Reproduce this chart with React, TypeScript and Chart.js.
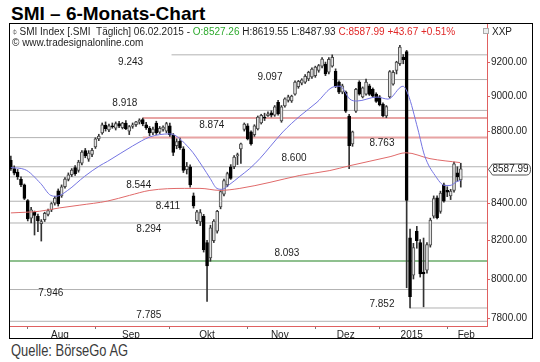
import React, { useEffect, useRef } from 'react';
import { Chart, registerables } from 'chart.js';
Chart.register(...registerables);

// Trading days (dd.mm.)
const dates = [
  '25.07.', '28.07.', '29.07.', '30.07.', '31.07.',
  '04.08.', '05.08.', '06.08.', '07.08.', '08.08.', '11.08.', '12.08.', '13.08.', '14.08.', '15.08.',
  '18.08.', '19.08.', '20.08.', '21.08.', '22.08.', '25.08.', '26.08.', '27.08.', '28.08.', '29.08.',
  '01.09.', '02.09.', '03.09.', '04.09.', '05.09.', '08.09.', '09.09.', '10.09.', '11.09.', '12.09.',
  '15.09.', '16.09.', '17.09.', '18.09.', '19.09.', '22.09.', '23.09.', '24.09.', '25.09.', '26.09.', '29.09.', '30.09.',
  '01.10.', '02.10.', '03.10.', '06.10.', '07.10.', '08.10.', '09.10.', '10.10.', '13.10.', '14.10.', '15.10.', '16.10.',
  '17.10.', '20.10.', '21.10.', '22.10.', '23.10.', '24.10.', '27.10.', '28.10.', '29.10.', '30.10.', '31.10.',
  '03.11.', '04.11.', '05.11.', '06.11.', '07.11.', '10.11.', '11.11.', '12.11.', '13.11.', '14.11.',
  '17.11.', '18.11.', '19.11.', '20.11.', '21.11.', '24.11.', '25.11.', '26.11.', '27.11.', '28.11.',
  '01.12.', '02.12.', '03.12.', '04.12.', '05.12.', '08.12.', '09.12.', '10.12.', '11.12.', '12.12.',
  '15.12.', '16.12.', '17.12.', '18.12.', '19.12.', '22.12.', '23.12.', '29.12.', '30.12.',
  '05.01.', '06.01.', '07.01.', '08.01.', '09.01.', '12.01.', '13.01.', '14.01.', '15.01.', '16.01.',
  '19.01.', '20.01.', '21.01.', '22.01.', '23.01.', '26.01.', '27.01.', '28.01.', '29.01.', '30.01.',
  '02.02.', '03.02.', '04.02.', '05.02.', '06.02.'
];

const opens = [
  8635, 8590, 8570, 8530, 8500, 8415, 8320, 8352, 8330, 8290, 8312, 8340, 8364, 8400, 8468, 8440, 8490, 8530, 8556, 8595,
  8580, 8620, 8690, 8642, 8668, 8710, 8756, 8790, 8832, 8806, 8830, 8816, 8842, 8820, 8846, 8800, 8826, 8836, 8850, 8866,
  8836, 8816, 8790, 8846, 8794, 8810, 8800, 8830, 8776, 8718, 8744, 8700, 8584, 8600, 8440, 8306, 8300, 8330, 8190, 8110,
  8200, 8250, 8380, 8450, 8500, 8600, 8600, 8660, 8700, 8810, 8830, 8796, 8780, 8812, 8846, 8880, 8888, 8904, 8890, 8964,
  8858, 8944, 8976, 8972, 9012, 9056, 9076, 9082, 9100, 9112, 9120, 9150, 9176, 9188, 9140, 9176, 9146, 9082, 9024, 9024,
  8886, 8728, 8914, 9082, 8996, 9012, 9060, 9040, 9012, 8996, 8954, 8886, 8996, 9070, 9150, 9190, 9230, 9262, 8215, 8020,
  8250, 8190, 8036, 8046, 8176, 8330, 8430, 8356, 8500, 8470, 8440, 8470, 8566, 8527.26
];
const highs = [
  8660, 8605, 8585, 8545, 8505, 8420, 8378, 8358, 8342, 8312, 8352, 8368, 8404, 8438, 8478, 8500, 8540, 8566, 8590, 8606,
  8636, 8690, 8702, 8690, 8702, 8762, 8782, 8846, 8852, 8840, 8846, 8852, 8856, 8850, 8860, 8832, 8846, 8856, 8870, 8874,
  8850, 8826, 8822, 8856, 8826, 8830, 8850, 8846, 8786, 8756, 8760, 8712, 8624, 8610, 8456, 8362, 8366, 8340, 8202, 8282,
  8312, 8362, 8472, 8532, 8570, 8612, 8662, 8676, 8732, 8846, 8842, 8802, 8836, 8886, 8896, 8902, 8910, 8916, 8946, 8976,
  8946, 8990, 9006, 9006, 9090, 9092, 9102, 9126, 9146, 9166, 9176, 9186, 9226, 9200, 9226, 9243, 9160, 9090, 9070, 9030,
  8896, 8800, 9046, 9090, 9054, 9100, 9070, 9048, 9020, 9004, 8962, 8946, 9150, 9150, 9205, 9300, 9245, 9270, 8262, 8186,
  8276, 8206, 8214, 8190, 8320, 8440, 8440, 8466, 8510, 8490, 8476, 8626, 8600, 8619.55
];
const lows = [
  8580, 8555, 8530, 8490, 8420, 8305, 8295, 8230, 8248, 8198, 8302, 8332, 8355, 8390, 8385, 8432, 8482, 8522, 8546, 8552,
  8570, 8610, 8650, 8630, 8656, 8702, 8746, 8782, 8800, 8796, 8816, 8806, 8820, 8812, 8808, 8780, 8816, 8826, 8840, 8830,
  8810, 8774, 8780, 8780, 8786, 8800, 8790, 8770, 8662, 8700, 8696, 8568, 8560, 8488, 8374, 8290, 8280, 8140, 7885, 8092,
  8190, 8240, 8370, 8440, 8490, 8530, 8590, 8612, 8618, 8800, 8750, 8720, 8770, 8806, 8840, 8860, 8884, 8880, 8884, 8890,
  8850, 8936, 8966, 8964, 9006, 9046, 9066, 9074, 9090, 9104, 9110, 9140, 9166, 9120, 9130, 9170, 9050, 9014, 9014, 8906,
  8590, 8714, 8906, 9006, 8990, 9006, 9004, 8994, 8964, 8944, 8880, 8876, 8990, 9064, 9130, 9180, 9190, 7955, 7852, 8000,
  8160, 8010, 7858, 8030, 8166, 8320, 8316, 8346, 8406, 8436, 8420, 8460, 8520, 8487.93
];
const closes = [
  8590, 8565, 8545, 8500, 8427, 8316, 8365, 8334, 8305, 8302, 8346, 8360, 8398, 8428, 8396, 8490, 8532, 8556, 8582, 8562,
  8626, 8682, 8660, 8676, 8692, 8756, 8772, 8836, 8814, 8830, 8824, 8842, 8828, 8846, 8814, 8826, 8836, 8852, 8862, 8840,
  8820, 8790, 8812, 8790, 8816, 8822, 8842, 8780, 8680, 8740, 8706, 8580, 8602, 8500, 8386, 8354, 8350, 8152, 8068, 8268,
  8304, 8356, 8464, 8524, 8562, 8536, 8654, 8668, 8728, 8840, 8756, 8728, 8830, 8880, 8890, 8874, 8898, 8890, 8938, 8898,
  8938, 8984, 8996, 9000, 9082, 9086, 9096, 9116, 9140, 9158, 9170, 9180, 9218, 9130, 9216, 9228, 9058, 9024, 9060, 8914,
  8718, 8796, 9040, 9012, 9048, 9082, 9010, 9000, 8970, 8950, 8886, 8940, 9144, 9140, 9200, 9290, 9215, 8415, 7910, 8164,
  8200, 8026, 8026, 8180, 8310, 8426, 8322, 8456, 8412, 8460, 8466, 8616, 8544.32, 8587.99
];

// Moving averages (trading-day index, value)
const blueMaX = [0, 4.1, 8.8, 11.8, 13.5, 16.8, 21.8, 26.3, 28.6, 36, 41.1, 44, 47, 52.9, 56.7, 58.9, 60.9, 62.4, 64.7, 67.7,
  70.6, 73.6, 76.6, 80.4, 85.4, 90.5, 95.2, 97.3, 100.2, 102.3, 108.2, 111.5, 115.9, 117.4, 120.3, 122.3, 125.4, 128.3, 129.8, 131.9, 133];
const blueMaY = [8595, 8585, 8508, 8443, 8438, 8470, 8547, 8606, 8630, 8716, 8767, 8780, 8784, 8700, 8600, 8536, 8481, 8476, 8503, 8547,
  8590, 8645, 8711, 8795, 8885, 8965, 9053, 9058, 8983, 8972, 8995, 8983, 9058, 9012, 8812, 8662, 8552, 8497, 8497, 8519, 8525];
const redMaX = [0, 8.5, 14.4, 20.4, 28.6, 35.1, 41.1, 51.4, 55.9, 61.8, 67.7, 76.6, 85.4, 94.3, 100.2, 112.1, 116.8, 123.9, 132.8];
const redMaY = [8348, 8357, 8375, 8390, 8412, 8443, 8470, 8481, 8481, 8470, 8481, 8514, 8552, 8579, 8606, 8656, 8678, 8645, 8623];

// Horizontal levels
const levelValues = [9243, 9097, 8918, 8874, 8763, 8600, 8544, 8411, 8294, 8093, 7946, 7852, 7785];
const levelLabels = ['9.243', '9.097', '8.918', '8.874', '8.763', '8.600', '8.544', '8.411', '8.294', '8.093', '7.946', '7.852', '7.785'];
const zoneValues = [8874, 8763];

// visible right-axis tick labels (8600 is hidden behind the price tag)
const yTickValues = [7800, 8000, 8200, 8400, 8800, 9000, 9200];
const monthNames = ['Aug', 'Sep', 'Okt', 'Nov', 'Dez', '2015', 'Feb'];

// styling / placement (not data)
const levelStart = [47.5, 95, -1, 39, -1, -1, -1, -1, -1, -1, -1, 118, -1];
const levelColor = ['#b2b2b2', '#b2b2b2', '#b2b2b2', '#b2b2b2', '#b2b2b2', '#b2b2b2', '#b2b2b2', '#b2b2b2', '#b2b2b2', '#8fc08f', '#b2b2b2', '#b2b2b2', '#b2b2b2'];
const levelWidth = [1, 1, 1, 1, 1, 1, 1, 1, 1, 2, 1, 1, 1];
const labelAt = [35.4, 76.6, 33.7, 59.4, 109.7, 83.7, 37.8, 46.4, 40.8, 81.6, 11.8, 109.7, 40.8];
const labelDy = [7, -2, -7, 7.5, 6, -9, 8.5, 5.5, 6, -8, 4, -4, -6];
const zoneStart = 39;

const XMIN = -0.25;
const XMAX = 140.75;
const FONT = '"Liberation Sans", Arial, sans-serif';

export default function App() {
  const ref = useRef<HTMLCanvasElement>(null);

  useEffect(() => {
    const canvas = ref.current;
    if (!canvas) return;
    const n = closes.length;
    const monthStarts: number[] = [];
    for (let i = 1; i < n; i++) {
      if (dates[i].slice(3, 5) !== dates[i - 1].slice(3, 5)) monthStarts.push(i);
    }
    const bounds = [...monthStarts, XMAX + 0.5];
    const monthCenters = monthStarts.map((s, k) => (s + bounds[k + 1]) / 2 - 0.5);
    const startSet = new Set(monthStarts);
    const labelMap = new Map<number, string>();
    monthCenters.forEach((c, k) => labelMap.set(c, monthNames[k]));
    const xTickVals = [...monthStarts, ...monthCenters].sort((a, b) => a - b);

    const levelSets = levelValues.map((v, k) => ({
      type: 'line',
      data: [{ x: levelStart[k], y: v }, { x: XMAX + 1, y: v }],
      borderColor: levelColor[k],
      borderWidth: levelWidth[k],
      pointRadius: 0,
      order: 20,
      clip: 0,
    }));
    const zoneSets = zoneValues.map((v) => ({
      type: 'line',
      data: [{ x: zoneStart, y: v }, { x: XMAX + 1, y: v }],
      borderColor: '#e8a4a4',
      borderWidth: 2,
      pointRadius: 0,
      order: 19,
      clip: 0,
    }));

    const up = closes.map((c, i) => c >= opens[i]);

    const overlay = {
      id: 'overlay',
      afterDatasetsDraw(chart: any) {
        const { ctx } = chart;
        const xs = chart.scales.x;
        const ys = chart.scales.y;
        ctx.save();
        ctx.font = '10px ' + FONT;
        ctx.fillStyle = '#1e1e1e';
        ctx.textAlign = 'center';
        ctx.textBaseline = 'middle';
        levelValues.forEach((v, k) => {
          ctx.fillText(levelLabels[k], xs.getPixelForValue(labelAt[k]), ys.getPixelForValue(v) + labelDy[k]);
        });
        ctx.restore();
      },
      afterDraw(chart: any) {
        const { ctx, chartArea } = chart;
        const ys = chart.scales.y;
        const last = closes[closes.length - 1];
        const yc = Math.round(ys.getPixelForValue(last)) + 0.5;
        const L = chartArea.right + 1.5;
        const R = chart.width - 1.5;
        const h = 5.5;
        ctx.save();
        ctx.beginPath();
        ctx.moveTo(L, yc);
        ctx.lineTo(L + 4, yc - h);
        ctx.lineTo(R - 4, yc - h);
        ctx.quadraticCurveTo(R, yc - h, R, yc);
        ctx.quadraticCurveTo(R, yc + h, R - 4, yc + h);
        ctx.lineTo(L + 4, yc + h);
        ctx.closePath();
        ctx.fillStyle = '#fff';
        ctx.fill();
        ctx.strokeStyle = '#555';
        ctx.lineWidth = 1;
        ctx.stroke();
        ctx.font = '10px ' + FONT;
        ctx.fillStyle = '#1e1e1e';
        ctx.textAlign = 'left';
        ctx.textBaseline = 'middle';
        ctx.fillText(last.toFixed(2), L + 4, yc);
        ctx.restore();
      },
    };

    const chart = new Chart(canvas, {
      type: 'bar',
      data: {
        datasets: [
          ...(levelSets as any[]),
          ...(zoneSets as any[]),
          {
            type: 'bar',
            data: closes.map((c, i) => ({ x: i, y: [lows[i], highs[i]] })),
            backgroundColor: '#333',
            barThickness: 1,
            grouped: false,
            order: 12,
            clip: 0,
          } as any,
          {
            type: 'bar',
            data: closes.map((c, i) => ({ x: i, y: [opens[i], c] })),
            backgroundColor: up.map((u) => (u ? '#e4e4e4' : '#000')),
            borderColor: up.map((u) => (u ? '#4a4a4a' : '#000')),
            borderWidth: 1,
            borderSkipped: false,
            barThickness: 3,
            minBarLength: 1,
            grouped: false,
            order: 11,
            clip: 0,
          } as any,
          {
            type: 'line',
            data: redMaX.map((x, k) => ({ x, y: redMaY[k] })),
            borderColor: '#e06a6a',
            borderWidth: 1,
            pointRadius: 0,
            cubicInterpolationMode: 'monotone',
            order: 2,
            clip: 0,
          } as any,
          {
            type: 'line',
            data: blueMaX.map((x, k) => ({ x, y: blueMaY[k] })),
            borderColor: '#7474e2',
            borderWidth: 1,
            pointRadius: 0,
            cubicInterpolationMode: 'monotone',
            order: 1,
            clip: 0,
          } as any,
        ],
      },
      options: {
        animation: false,
        responsive: false,
        maintainAspectRatio: false,
        events: [],
        layout: { padding: 0 },
        plugins: { legend: { display: false }, tooltip: { enabled: false } },
        scales: {
          x: {
            type: 'linear',
            min: XMIN,
            max: XMAX,
            offset: false,
            position: 'bottom',
            afterBuildTicks: (s: any) => {
              s.ticks = xTickVals.map((v) => ({ value: v }));
            },
            afterFit: (s: any) => {
              s.height = 12;
              s.paddingLeft = 0;
              s.paddingRight = 0;
            },
            ticks: {
              autoSkip: false,
              maxRotation: 0,
              padding: 1,
              color: '#1e1e1e',
              font: { size: 10, family: FONT, lineHeight: 1 },
              callback: (v: any) => labelMap.get(v) ?? '',
            },
            grid: {
              drawOnChartArea: false,
              drawTicks: true,
              offset: false,
              tickLength: 3,
              tickColor: (ctx: any) => (ctx.tick && startSet.has(ctx.tick.value) ? '#777' : 'rgba(0,0,0,0)'),
            },
            border: { color: '#e06060', width: 1 },
          },
          y: {
            type: 'logarithmic',
            position: 'right',
            min: 7761.4,
            max: 9428.5,
            afterBuildTicks: (s: any) => {
              s.ticks = yTickValues.map((v) => ({ value: v }));
            },
            afterFit: (s: any) => {
              s.width = 45;
              s.paddingTop = 0;
              s.paddingBottom = 0;
            },
            ticks: {
              autoSkip: false,
              padding: 1,
              color: '#1e1e1e',
              font: { size: 10, family: FONT },
              callback: (v: any) => Number(v).toFixed(2),
            },
            grid: {
              drawOnChartArea: false,
              drawTicks: true,
              tickLength: 3,
              tickColor: '#e06060',
            },
            border: { color: '#e06060', width: 1 },
          },
        },
      } as any,
      plugins: [overlay],
    });
    return () => chart.destroy();
  }, []);

  return (
    <div style={{ position: 'fixed', left: 0, top: 0, width: 540, height: 362, background: '#fff', fontFamily: FONT, overflow: 'hidden' }}>
      <div style={{ position: 'absolute', left: 11, top: 4, fontSize: 19, fontWeight: 700, lineHeight: '19px', whiteSpace: 'nowrap', color: '#000' }}>
        SMI – 6-Monats-Chart
      </div>
      <div style={{ position: 'absolute', left: 9, top: 23, width: 524, height: 316, border: '1px solid #000', boxSizing: 'border-box' }}>
        <canvas ref={ref} width={522} height={314} style={{ position: 'absolute', left: 0, top: 0, width: 522, height: 314 }} />
        <div style={{ position: 'absolute', left: 2, top: 3, fontSize: 10, lineHeight: '10px', whiteSpace: 'pre', color: '#1e1e1e' }}>
          <span style={{ color: '#888', fontSize: 9 }}>⌽ </span>
          <span>SMI Index [.SMI  Täglich] 06.02.2015 - </span>
          <span style={{ color: '#2eaa2e' }}>O:8527.26 </span>
          <span>H:8619.55 L:8487.93 </span>
          <span style={{ color: '#e02828' }}>C:8587.99 +43.67 +0.51%</span>
        </div>
        <div style={{ position: 'absolute', left: 2, top: 14, fontSize: 10, lineHeight: '10px', whiteSpace: 'pre', color: '#1e1e1e' }}>
          © www.tradesignalonline.com
        </div>
        <div style={{ position: 'absolute', left: 473, top: 4, width: 4, height: 4, border: '1px solid #aaa', background: '#eee' }} />
        <div style={{ position: 'absolute', left: 482, top: 3, fontSize: 10, lineHeight: '10px', color: '#1e1e1e' }}>XXP</div>
      </div>
      <div style={{ position: 'absolute', left: 11, top: 342, fontSize: 17, lineHeight: '17px', whiteSpace: 'nowrap', color: '#3a3a3a', transform: 'scaleX(0.76)', transformOrigin: 'left top' }}>
        Quelle: BörseGo AG
      </div>
    </div>
  );
}
